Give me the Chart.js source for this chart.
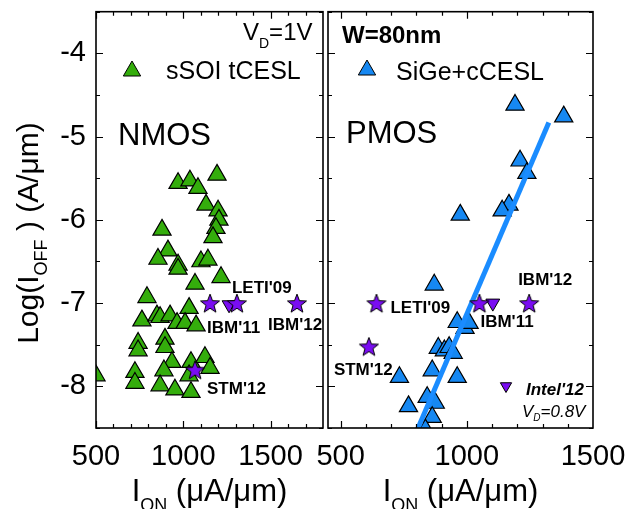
<!DOCTYPE html>
<html>
<head>
<meta charset="utf-8">
<title>ION - IOFF, NMOS / PMOS</title>
<script src="https://cdn.jsdelivr.net/npm/chart.js@4.4.1/dist/chart.umd.min.js"></script>
<style>
  html, body { margin: 0; padding: 0; background: #fff; }
  #wrap { position: relative; width: 634px; height: 509px; }
  #wrap canvas { position: absolute; left: 0; top: 0; }
</style>
</head>
<body>
<div id="wrap">
  <canvas id="nmosChart" width="634" height="509"></canvas>
  <canvas id="pmosChart" width="634" height="509"></canvas>
</div>
<script>
// values: I_ON in uA/um, log10(I_OFF) in A/um

// NMOS, sSOI tCESL
var nmosIon = [970, 1038, 1084, 1193, 1130, 1199, 1204, 1187, 1170, 878,
               912, 855, 970, 970, 1101, 1141, 1067, 1216, 792, 763,
               849, 867, 924, 964, 1033, 1010, 1073, 741, 741, 895,
               895, 935, 723, 723, 889, 867, 952, 1044, 1044, 1124,
               1153, 1033, 500];
var nmosIoff = [-5.56, -5.53, -5.62, -5.46, -5.82, -5.89, -6.00, -6.10, -6.21, -6.12,
                -6.37, -6.47, -6.54, -6.59, -6.50, -6.48, -6.77, -6.69, -6.93, -7.21,
                -7.15, -7.17, -7.15, -7.24, -7.06, -7.24, -7.27, -7.48, -7.57, -7.43,
                -7.53, -7.71, -7.83, -7.96, -7.81, -7.99, -8.04, -7.71, -8.07, -7.65,
                -7.78, -7.87, -7.87];
var nmosRefNames = ["IBM'11", "LETI'09", "IBM'12", "STM'12"];
var nmosRefIon = [1153, 1307, 1651, 1067];
var nmosRefIoff = [-7.0, -7.0, -7.0, -7.8];
var nmosIntelIon = [1262];
var nmosIntelIoff = [-7.02];

// PMOS, SiGe+cCESL
var pmosIon = [1191, 1384, 1211, 1238, 1167, 1140, 974, 871, 962, 993,
               1009, 887, 911, 930, 946, 863, 962, 733, 843, 875,
               769, 863, 836];
var pmosIoff = [-4.62, -4.76, -5.29, -5.44, -5.82, -5.89, -5.94, -6.78, -7.23, -7.30,
                -7.24, -7.54, -7.57, -7.53, -7.60, -7.81, -7.89, -7.89, -8.13, -8.20,
                -8.24, -8.37, -8.52];
var pmosRefNames = ["LETI'09", "STM'12", "IBM'11", "IBM'12"];
var pmosRefIon = [642, 612, 1050, 1247];
var pmosRefIoff = [-7.0, -7.52, -7.0, -7.0];
var pmosIntelIon = [1103];
var pmosIntelIoff = [-7.0];
var pmosFitIon = [780, 1325];
var pmosFitIoff = [-8.69, -4.83];

// axes
var yTickValues = [-8, -7, -6, -5, -4];
var nmosXTicks = [500, 1000, 1500];
var pmosXTicks = [500, 1000, 1500];

var FONT = "'Liberation Sans', Arial, sans-serif";
var GREEN = '#34ad0c';
var BLUE = '#1688f2';
var PURPLE = '#7a0df2';

function pts(xs, ys) {
    return xs.map(function (v, i) { return {x: v, y: ys[i]}; });
}

// filled 5 point star, Chart.js only has the asterisk one
function makeStar(r) {
    var c = document.createElement('canvas');
    var s = Math.ceil(r * 2 + 4);
    c.width = s;
    c.height = s;
    var g = c.getContext('2d');
    g.translate(s / 2, s / 2 + 1);
    g.beginPath();
    for (var i = 0; i < 10; i++) {
        var rr = i % 2 ? r * 0.42 : r;
        var a = -Math.PI / 2 + i * Math.PI / 5;
        g.lineTo(Math.cos(a) * rr, Math.sin(a) * rr);
    }
    g.closePath();
    g.fillStyle = PURPLE;
    g.fill();
    g.strokeStyle = '#000';
    g.lineWidth = 1;
    g.stroke();
    return c;
}
var star = makeStar(10);

function rich(ctx, parts, x, y, align) {
    var w = 0;
    parts.forEach(function (p) {
        ctx.font = (p[3] || '') + ' ' + p[1] + 'px ' + FONT;
        w += ctx.measureText(p[0]).width;
    });
    var cx = align === 'center' ? x - w / 2 : (align === 'right' ? x - w : x);
    parts.forEach(function (p) {
        ctx.font = (p[3] || '') + ' ' + p[1] + 'px ' + FONT;
        ctx.fillText(p[0], cx, y + (p[2] || 0));
        cx += ctx.measureText(p[0]).width;
    });
}

function tri(ctx, x, y, r, color, down) {
    var s = down ? -1 : 1;
    var h = r * Math.sqrt(3) / 2;
    ctx.beginPath();
    ctx.moveTo(x, y - s * r);
    ctx.lineTo(x + h, y + s * r / 2);
    ctx.lineTo(x - h, y + s * r / 2);
    ctx.closePath();
    ctx.fillStyle = color;
    ctx.fill();
    ctx.lineWidth = 1;
    ctx.strokeStyle = '#000';
    ctx.stroke();
}

function axisTitles(ctx, a, showY) {
    ctx.fillStyle = '#000';
    rich(ctx, [['I', 31], ['ON', 18, 10], [' (\u03bcA/\u03bcm)', 31]], (a.left + a.right) / 2, 501, 'center');
    if (showY) {
        ctx.save();
        ctx.translate(38, 233);
        ctx.rotate(-Math.PI / 2);
        rich(ctx, [['Log(I', 30], ['OFF', 18, 9], [' ) (A/\u03bcm)', 30]], 0, 0, 'center');
        ctx.restore();
    }
}

function makePanelPlugin(names, offsets, extra) {
    return {
        id: 'panel',
        afterDatasetsDraw: function (chart) {
            var ctx = chart.ctx, a = chart.chartArea;
            var xs = chart.scales.x, ys = chart.scales.y;
            ctx.save();
            ctx.strokeStyle = '#000';
            ctx.lineWidth = 1.6;
            ctx.strokeRect(a.left, a.top, a.right - a.left, a.bottom - a.top);

            // inward ticks on all four sides
            ctx.lineWidth = 1.2;
            ctx.beginPath();
            for (var v = Math.ceil(xs.min / 100) * 100; v < xs.max; v += 100) {
                var px = Math.round(xs.getPixelForValue(v)) + 0.5;
                var len = v % 500 === 0 ? 7 : 4;
                ctx.moveTo(px, a.bottom);
                ctx.lineTo(px, a.bottom - len);
                ctx.moveTo(px, a.top);
                ctx.lineTo(px, a.top + len);
            }
            for (var w = -8.5; w <= -3.5; w += 0.5) {
                var py = Math.round(ys.getPixelForValue(w)) + 0.5;
                var l2 = w % 1 === 0 ? 7 : 4;
                ctx.moveTo(a.left, py);
                ctx.lineTo(a.left + l2, py);
                ctx.moveTo(a.right, py);
                ctx.lineTo(a.right - l2, py);
            }
            ctx.stroke();

            // labels of the published devices, next to their stars
            var meta = chart.getDatasetMeta(0);
            ctx.fillStyle = '#000';
            ctx.font = 'bold 17px ' + FONT;
            names.forEach(function (n, i) {
                var p = meta.data[i];
                ctx.fillText(n, p.x + offsets[i][0], p.y + offsets[i][1]);
            });
            extra(ctx, a);
            ctx.restore();
        }
    };
}

function makeChart(id, datasets, xMin, xMax, xTicks, padding, showY, plugin) {
    return new Chart(document.getElementById(id), {
        type: 'scatter',
        data: {datasets: datasets},
        options: {
            responsive: false,
            animation: false,
            devicePixelRatio: 1,
            layout: {padding: padding},
            plugins: {legend: {display: false}, tooltip: {enabled: false}},
            scales: {
                x: {
                    type: 'linear',
                    min: xMin,
                    max: xMax,
                    afterBuildTicks: function (s) {
                        s.ticks = xTicks.map(function (v) { return {value: v}; });
                    },
                    afterFit: function (s) {
                        s.height = 81;
                        s.paddingLeft = 0;
                        s.paddingRight = 0;
                    },
                    grid: {display: false, drawTicks: false},
                    border: {display: false},
                    ticks: {
                        autoSkip: false,
                        maxRotation: 0,
                        padding: 12,
                        color: '#000',
                        font: {family: FONT, size: 29},
                        callback: function (v) { return String(v); }
                    }
                },
                y: {
                    type: 'linear',
                    display: showY,
                    min: -8.5,
                    max: -3.5,
                    afterBuildTicks: function (s) {
                        s.ticks = yTickValues.map(function (v) { return {value: v}; });
                    },
                    afterFit: function (s) {
                        s.width = showY ? 96 : 0;
                        s.paddingTop = 0;
                        s.paddingBottom = 0;
                    },
                    grid: {display: false, drawTicks: false},
                    border: {display: false},
                    ticks: {
                        padding: 10,
                        color: '#000',
                        font: {family: FONT, size: 29},
                        callback: function (v) { return String(v); }
                    }
                }
            }
        },
        plugins: [plugin]
    });
}

function starSet(xs, ys) {
    return {data: pts(xs, ys), pointStyle: star, pointRadius: 10};
}
function intelSet(xs, ys) {
    return {
        data: pts(xs, ys), pointStyle: 'triangle', rotation: 180, pointRadius: 8,
        backgroundColor: PURPLE, borderColor: '#000', borderWidth: 1
    };
}
function triSet(xs, ys, color) {
    return {
        data: pts(xs, ys), pointStyle: 'triangle', pointRadius: 10.5,
        backgroundColor: color, borderColor: '#000', borderWidth: 1.2
    };
}

// left panel: NMOS
makeChart('nmosChart', [
    starSet(nmosRefIon, nmosRefIoff),
    intelSet(nmosIntelIon, nmosIntelIoff),
    triSet(nmosIon, nmosIoff, GREEN)
], 500, 1800, nmosXTicks, {top: 10, left: 0, right: 311, bottom: 0}, true,
makePanelPlugin(nmosRefNames, [[-3, 30], [-5, -10], [-29, 27], [12, 24]], function (ctx, a) {
    ctx.fillStyle = '#000';
    rich(ctx, [['V', 24], ['D', 14, 8], ['=1V', 24]], 243, 40, 'left');
    tri(ctx, 132, 71, 10, GREEN, false);
    ctx.fillStyle = '#000';
    ctx.font = '25px ' + FONT;
    ctx.fillText('sSOI tCESL', 166, 79);
    ctx.font = '31px ' + FONT;
    ctx.fillText('NMOS', 118, 145);
    axisTitles(ctx, a, true);
}));

// right panel: PMOS
makeChart('pmosChart', [
    starSet(pmosRefIon, pmosRefIoff),
    intelSet(pmosIntelIon, pmosIntelIoff),
    {
        data: pts(pmosFitIon, pmosFitIoff), showLine: true, pointRadius: 0,
        borderColor: '#1a8cff', borderWidth: 5, clip: 0
    },
    triSet(pmosIon, pmosIoff, BLUE)
], 450, 1500, pmosXTicks, {top: 10, left: 328, right: 41, bottom: 0}, false,
makePanelPlugin(pmosRefNames, [[14, 10], [-35, 29], [1, 24], [-11, -18]], function (ctx, a) {
    ctx.fillStyle = '#000';
    ctx.font = 'bold 24px ' + FONT;
    ctx.fillText('W=80nm', 342, 43);
    tri(ctx, 367, 70, 10, BLUE, false);
    ctx.fillStyle = '#000';
    ctx.font = '25px ' + FONT;
    ctx.fillText('SiGe+cCESL', 396, 80);
    ctx.font = '31px ' + FONT;
    ctx.fillText('PMOS', 346, 143);
    tri(ctx, 506, 386, 6.5, PURPLE, true);
    ctx.fillStyle = '#000';
    ctx.font = 'italic bold 17px ' + FONT;
    ctx.fillText("Intel'12", 526, 395);
    rich(ctx, [['V', 17, 0, 'italic'], ['D', 10, 4, 'italic'], ['=0.8V', 17, 0, 'italic']], 522, 417, 'left');
    axisTitles(ctx, a, false);
}));
</script>
</body>
</html>
